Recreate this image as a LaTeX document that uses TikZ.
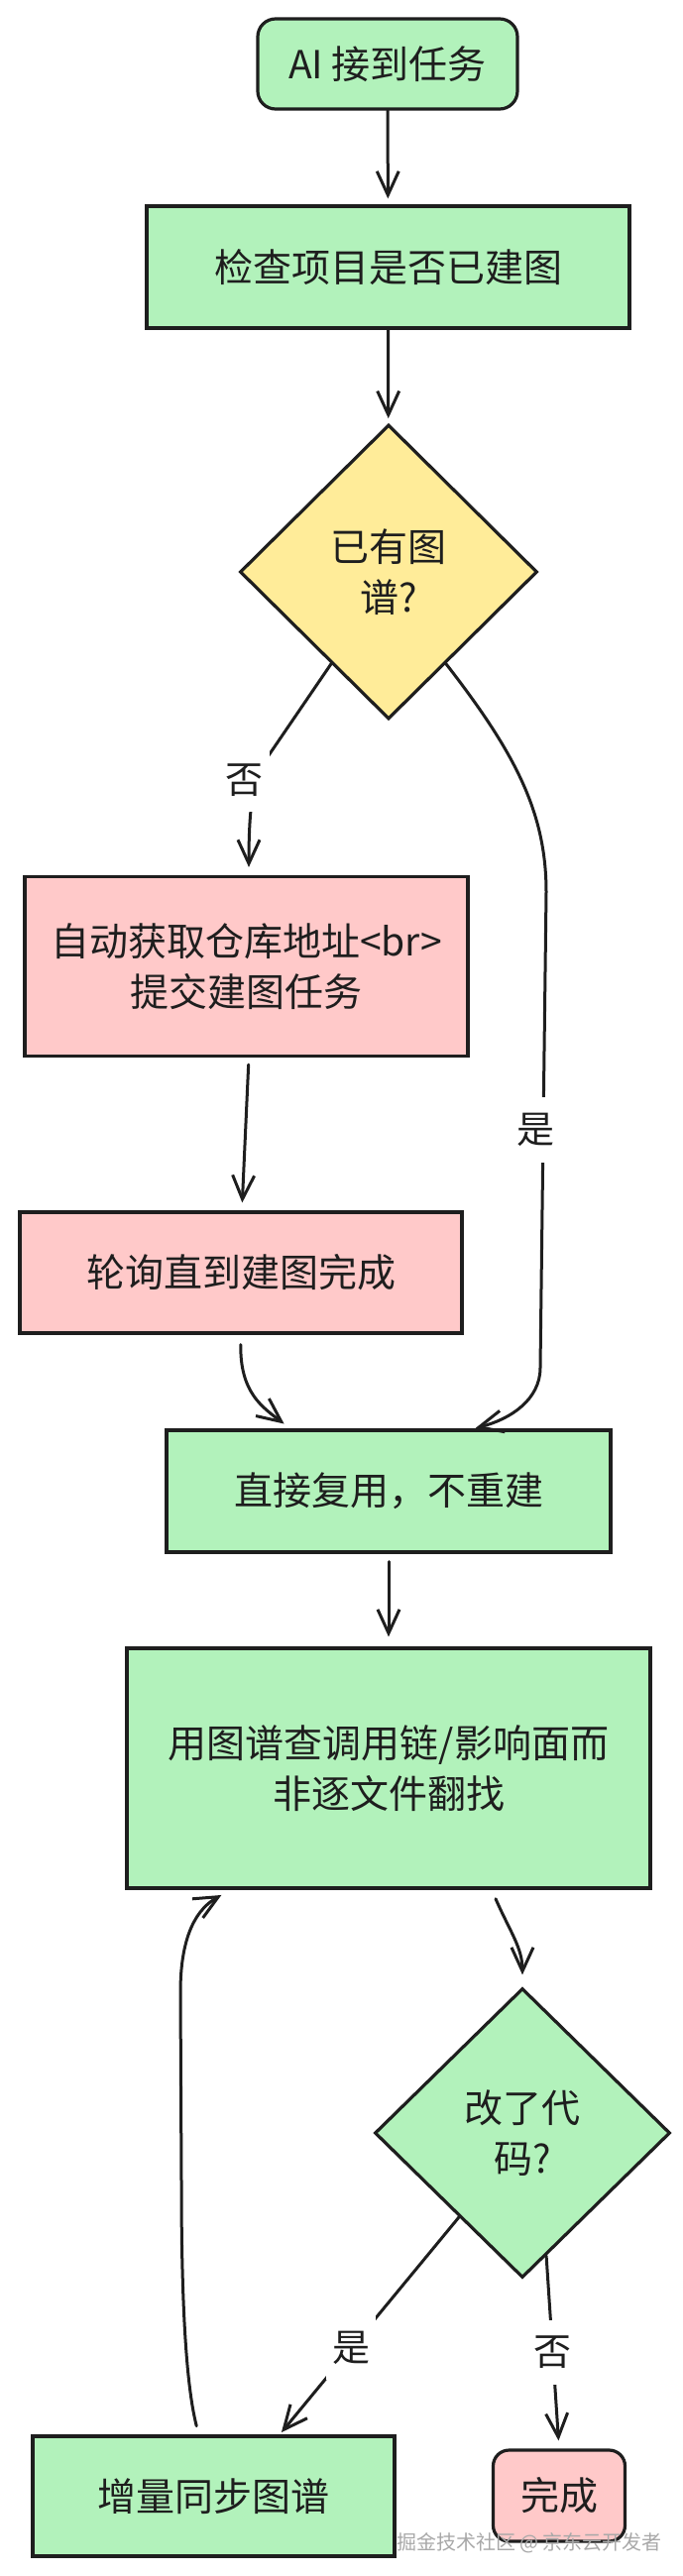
\documentclass[tikz,border=0pt]{standalone}
\usepackage{fontspec}
\setmainfont{Noto Sans CJK SC}
\usetikzlibrary{shapes.geometric,arrows.meta,calc}
\definecolor{ink}{HTML}{1E1E1E}
\definecolor{gfill}{HTML}{B2F2BB}
\definecolor{pfill}{HTML}{FFC9C9}
\definecolor{yfill}{HTML}{FFEC99}
\definecolor{wmark}{HTML}{A8A8A8}
\tikzset{
  boxnode/.style={draw=ink, line width=3.2pt, rectangle, inner sep=0pt, align=center,
    text=ink, font=\fontsize{39}{51}\selectfont},
  roundnode/.style={boxnode, rounded corners=18pt},
  decnode/.style={boxnode, diamond, shape aspect=1},
  arr/.style={draw=ink, line width=3pt, line cap=round,
    -{Straight Barb[length=24pt,width=22pt,line width=3pt]}},
  lbl/.style={fill=white, text=ink, inner xsep=6pt, inner ysep=16pt,
    font=\fontsize{38}{40}\selectfont},
}
\begin{document}
\begin{tikzpicture}[x=1pt,y=-1pt]
\useasboundingbox (0,0) rectangle (688,2599);

% nodes
\node[roundnode, fill=gfill, minimum width=262pt, minimum height=91pt] (n1) at (391,64.5) {AI 接到任务};
\node[boxnode, fill=gfill, minimum width=487pt, minimum height=123pt] (n2) at (391.5,269.5) {检查项目是否已建图};
\node[decnode, fill=yfill, minimum width=300pt, minimum height=297pt] (d1) at (392,577) {已有图\\谱?};
\node[boxnode, fill=pfill, minimum width=447pt, minimum height=181pt] (b1) at (248.5,975) {自动获取仓库地址<br>\\提交建图任务};
\node[boxnode, fill=pfill, minimum width=446pt, minimum height=122pt] (b2) at (243,1284) {轮询直到建图完成};
\node[boxnode, fill=gfill, minimum width=448pt, minimum height=123pt] (b3) at (392,1504.5) {直接复用，不重建};
\node[boxnode, fill=gfill, minimum width=528pt, minimum height=242pt] (b4) at (392,1784) {用图谱查调用链/影响面而\\非逐文件翻找};
\node[decnode, fill=gfill, minimum width=298pt, minimum height=292pt] (d2) at (527,2152) {改了代\\码?};
\node[boxnode, fill=gfill, minimum width=365pt, minimum height=121pt] (b5) at (215.5,2518.5) {增量同步图谱};
\node[roundnode, rounded corners=16pt, fill=pfill, minimum width=133pt, minimum height=92pt] (b6) at (564,2518) {完成};

% connectors
\draw[arr, shorten >=6pt] (n1) -- (n2);
\draw[arr, shorten >=5pt] (n2) -- (d1);
\draw[arr, shorten >=8pt] (d1.238) -- (267,768) .. controls (256,786) and (251,810)
  .. node[lbl, pos=0.3, xshift=-12pt] (l1) {否} ($(b1.north)+(2.5,0)$);
\draw[arr, shorten >=3pt] (d1.302) .. controls (520,760) and (551,820) .. (551,900)
  -- node[lbl, xshift=-8pt] (l2) {是} (545,1380)
  .. controls (545,1412) and (515,1432) .. ($(b3.north)+(85,0)$);
\draw[arr, shorten <=7pt, shorten >=8pt] ($(b1.south)+(2.5,0)$) -- ($(b2.north)+(1,0)$);
\draw[arr, shorten <=10pt, shorten >=8pt] (b2.south) .. controls (242,1405) and (265,1420) .. ($(b3.north)+(-99,0)$);
\draw[arr, shorten <=8pt, shorten >=10pt] (b3) -- (b4);
\draw[arr, shorten <=10pt, shorten >=12pt] ($(b4.south)+(104,0)$) .. controls (515,1950) and (527,1965) .. (d2.north);
\draw[arr, shorten >=3pt] (d2.233) -- node[lbl, pos=0.6] (l3) {是} ($(b5.north)+(66.5,0)$);
\draw[arr, shorten >=8pt] (d2.281) -- node[lbl, pos=0.5] (l4) {否} (b6.north);
\draw[arr, shorten <=9pt, shorten >=11pt] ($(b5.north)+(-15,0)$) .. controls (186,2400) and (183,2300) .. (183,2200)
  -- (182,2010) .. controls (182,1950) and (200,1925) .. ($(b4.south)+(-159,0)$);

% watermark
\node[text=wmark, font=\fontsize{20}{22}\selectfont, inner sep=0pt] (wm) at (534,2566) {掘金技术社区 @ 京东云开发者};
\end{tikzpicture}
\end{document}
